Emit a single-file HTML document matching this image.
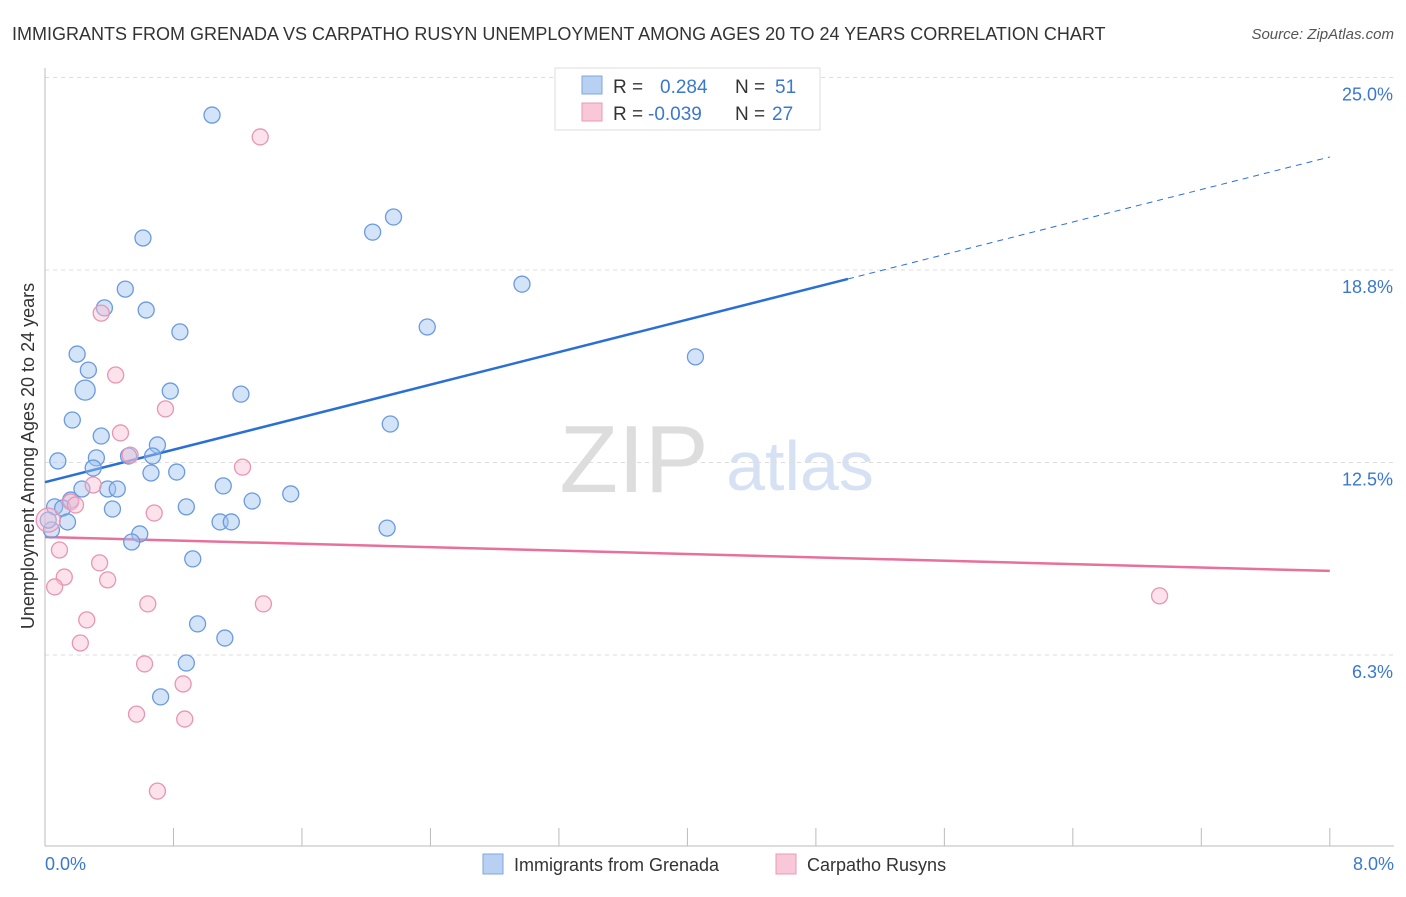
<!DOCTYPE html>
<html><head><meta charset="utf-8"><style>
body{margin:0;background:#fff;font-family:"Liberation Sans",sans-serif;}
svg text{font-family:"Liberation Sans",sans-serif;}
</style></head><body>
<svg id="chart" width="1406" height="892">
<text x="12" y="40" font-size="18" fill="#333">IMMIGRANTS FROM GRENADA VS CARPATHO RUSYN UNEMPLOYMENT AMONG AGES 20 TO 24 YEARS CORRELATION CHART</text>
<text x="1394" y="39" font-size="15" fill="#555" font-style="italic" text-anchor="end">Source: ZipAtlas.com</text>
<text x="634" y="492" font-size="96" fill="#ddd" font-family="Liberation Serif" text-anchor="middle">ZIP</text>
<text x="800" y="490" font-size="70" fill="#d6e2f3" text-anchor="middle">atlas</text>
<g id="grid"></g><g id="axes"></g><g id="lines"></g><g id="pts"></g>
<text transform="translate(34,456) rotate(-90)" font-size="18" fill="#333" text-anchor="middle">Unemployment Among Ages 20 to 24 years</text>
<text x="45" y="870" font-size="18" fill="#3a78d0">0.0%</text>
<text x="1394" y="870" font-size="18" fill="#3a78d0" text-anchor="end">8.0%</text>
<g>
<rect x="555" y="68" width="265" height="62" fill="#fff" stroke="#ddd"/>
<rect x="582" y="76" width="20" height="18" fill="#b8d0f2" stroke="#7fa6e0"/>
<rect x="582" y="103" width="20" height="18" fill="#f8c8d8" stroke="#e89ab5"/>
<text x="613" y="93" font-size="19" fill="#333">R = </text><text x="660" y="93" font-size="19" fill="#3a78d0">0.284</text>
<text x="735" y="93" font-size="19" fill="#333">N = </text><text x="775" y="93" font-size="19" fill="#3a78d0">51</text>
<text x="613" y="120" font-size="19" fill="#333">R = </text><text x="648" y="120" font-size="19" fill="#3a78d0">-0.039</text>
<text x="735" y="120" font-size="19" fill="#333">N = </text><text x="772" y="120" font-size="19" fill="#3a78d0">27</text>
</g>
<g><rect x="483" y="854" width="20" height="20" fill="#b8d0f2" stroke="#7fa6e0"/><text x="514" y="871" font-size="18" fill="#333">Immigrants from Grenada</text></g>
<g><rect x="776" y="854" width="20" height="20" fill="#f8c8d8" stroke="#e89ab5"/><text x="807" y="871" font-size="18" fill="#333">Carpatho Rusyns</text></g>
</svg>
<script>
const blueX=[1.04,0.61,2.17,2.04,2.97,0.50,0.37,0.63,0.84,2.38,0.20,4.05,0.27,0.25,0.78,1.22,0.17,0.35,2.15,0.70,0.32,0.52,0.67,0.08,0.30,0.82,0.66,0.23,0.39,0.45,1.11,0.16,1.29,1.53,0.88,0.42,0.06,0.11,0.14,1.09,1.16,2.13,0.59,0.54,0.04,0.92,0.95,1.12,0.88,0.72,0.02];
const blueY=[23.78,19.79,20.47,19.98,18.29,18.13,17.52,17.45,16.74,16.90,16.02,15.93,15.50,14.85,14.82,14.72,13.88,13.36,13.75,13.07,12.65,12.71,12.71,12.55,12.32,12.19,12.16,11.64,11.64,11.64,11.74,11.28,11.25,11.48,11.06,10.99,11.06,11.02,10.57,10.57,10.57,10.37,10.18,9.92,10.31,9.37,7.26,6.80,5.99,4.89,10.63];
const pinkX=[1.34,0.35,0.44,0.75,0.47,0.53,1.23,0.30,0.16,0.19,0.68,0.09,0.12,0.34,0.39,0.06,0.64,1.36,0.26,0.22,0.62,0.86,0.57,0.87,0.70,6.94,0.02];
const pinkY=[23.07,17.35,15.34,14.24,13.46,12.74,12.35,11.77,11.22,11.12,10.86,9.66,8.78,9.24,8.69,8.46,7.91,7.91,7.39,6.64,5.96,5.31,4.33,4.17,1.83,8.17,10.63];
const yTicks=[25.0,18.8,12.5,6.3];
const yTickLabels=["25.0%","18.8%","12.5%","6.3%"];
const xTicks=[0,0.8,1.6,2.4,3.2,4.0,4.8,5.6,6.4,7.2,8.0];
const blueTrend=[11.86,22.42]; // at x=0 and x=8
const blueSolidEnd=5.0;
const pinkTrend=[10.08,8.98];
const NS="http://www.w3.org/2000/svg";
const sx=v=>45+v*160.6, sy=v=>847.5-v*30.8;
function mk(tag,parent,attrs){const e=document.createElementNS(NS,tag);for(const k in attrs)e.setAttribute(k,attrs[k]);document.getElementById(parent).appendChild(e);return e;}
yTicks.forEach((t,i)=>{
 const l=mk('line','grid',{x1:45,x2:1394,y1:sy(t===25?25.0:t===18.8?18.75:t===12.5?12.5:6.25),y2:sy(t===25?25.0:t===18.8?18.75:t===12.5?12.5:6.25),stroke:'#ddd','stroke-dasharray':'4,4'});
 
 
 const tx=mk('text','grid',{x:1393,y:sy(t===25?25.0:t===18.8?18.75:t===12.5?12.5:6.25)+23,'font-size':18,fill:'#3a78d0','text-anchor':'end'});
 tx.textContent=yTickLabels[i];
 
 
});
const ax=mk('line','axes',{x1:45,x2:45,y1:68,y2:846,stroke:'#bbb'});


const bx=mk('line','axes',{x1:45,x2:1394,y1:846,y2:846,stroke:'#bbb'});


xTicks.forEach(t=>{const l=mk('line','axes',{x1:sx(t),x2:sx(t),y1:828,y2:846,stroke:'#bbb'});
 
 });
const bAt=x=>blueTrend[0]+(blueTrend[1]-blueTrend[0])*x/8;
const b1=mk('line','lines',{x1:sx(0),y1:sy(bAt(0)),x2:sx(blueSolidEnd),y2:sy(bAt(blueSolidEnd)),stroke:'#2a6fd6','stroke-width':2.5});


const b2=mk('line','lines',{x1:sx(blueSolidEnd),y1:sy(bAt(blueSolidEnd)),x2:sx(8),y2:sy(bAt(8)),stroke:'#2a6fd6','stroke-width':1,'stroke-dasharray':'6,5'});


const p1=mk('line','lines',{x1:sx(0),y1:sy(pinkTrend[0]),x2:sx(8),y2:sy(pinkTrend[1]),stroke:'#e8709a','stroke-width':2.5});


blueX.forEach((x,i)=>{const c=mk('circle','pts',{cx:sx(x),cy:sy(blueY[i]),r:i===13?10:8,fill:'rgba(160,195,240,0.45)',stroke:'#6a9ae0','stroke-width':1.3});
 
 });
pinkX.forEach((x,i)=>{const c=mk('circle','pts',{cx:sx(x),cy:sy(pinkY[i]),r:i===26?12:8,fill:'rgba(248,190,210,0.45)',stroke:'#e895b2','stroke-width':1.3});
 
 });
</script>
</body></html>
